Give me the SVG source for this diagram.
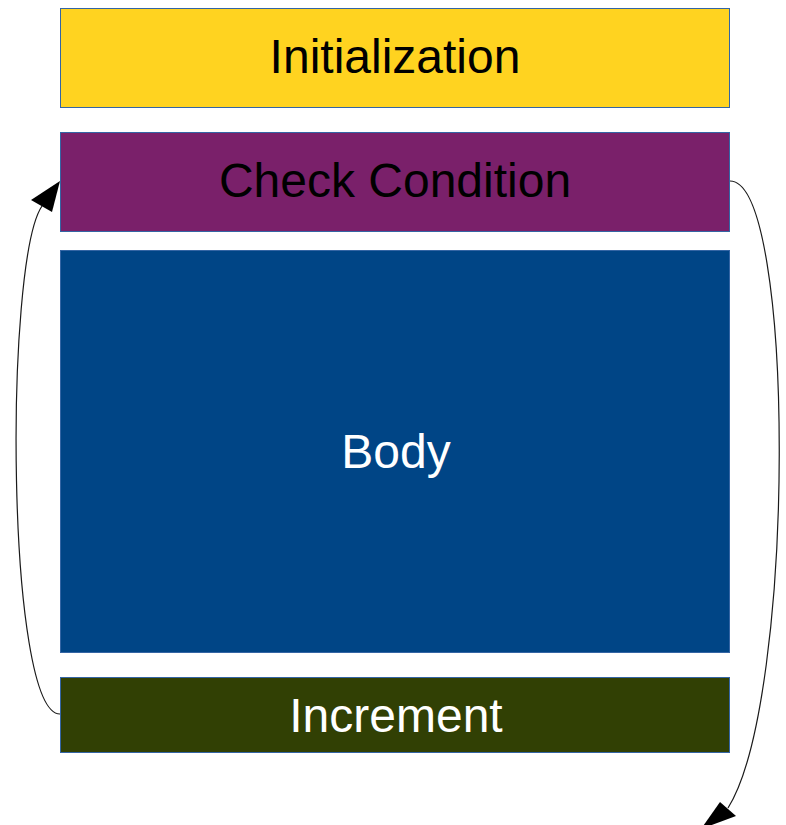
<svg xmlns="http://www.w3.org/2000/svg" width="786" height="825" viewBox="0 0 786 825">
  <style>
    .box { stroke: #3465a4; stroke-width: 1; }
    .label { font-family: "Liberation Sans", Arial, sans-serif; font-size: 48px; text-anchor: middle; }
    .dark { fill: #000000; }
    .light { fill: #ffffff; }
    .flow { fill: none; stroke: #1a1a1a; stroke-width: 1.2; }
    .head { fill: #000000; }
  </style>
  <rect width="786" height="825" fill="#ffffff"/>

  <g id="initialization">
    <rect class="box" x="60.5" y="8.5" width="669" height="99" fill="#ffd320"/>
    <text class="label dark" x="395" y="73">Initialization</text>
  </g>

  <g id="check-condition">
    <rect class="box" x="60.5" y="132.5" width="669" height="99" fill="#7a206a"/>
    <text class="label dark" x="395" y="197">Check Condition</text>
  </g>

  <g id="body">
    <rect class="box" x="60.5" y="250.5" width="669" height="402" fill="#004586"/>
    <text class="label light" x="396" y="468">Body</text>
  </g>

  <g id="increment">
    <rect class="box" x="60.5" y="677.5" width="669" height="75" fill="#314004"/>
    <text class="label light" x="396" y="732">Increment</text>
  </g>

  <g id="connectors">
    <!-- loop back: increment to condition -->
    <path class="flow" d="M60,714 C6,714 4,262 42,206"/>
    <polygon class="head" points="60,181 31,200 52,212"/>
    <!-- exit: condition false -->
    <path class="flow" d="M730,181 C796,181 796,700 728,808"/>
    <polygon class="head" points="701,829 720,802 736,816"/>
  </g>
</svg>
